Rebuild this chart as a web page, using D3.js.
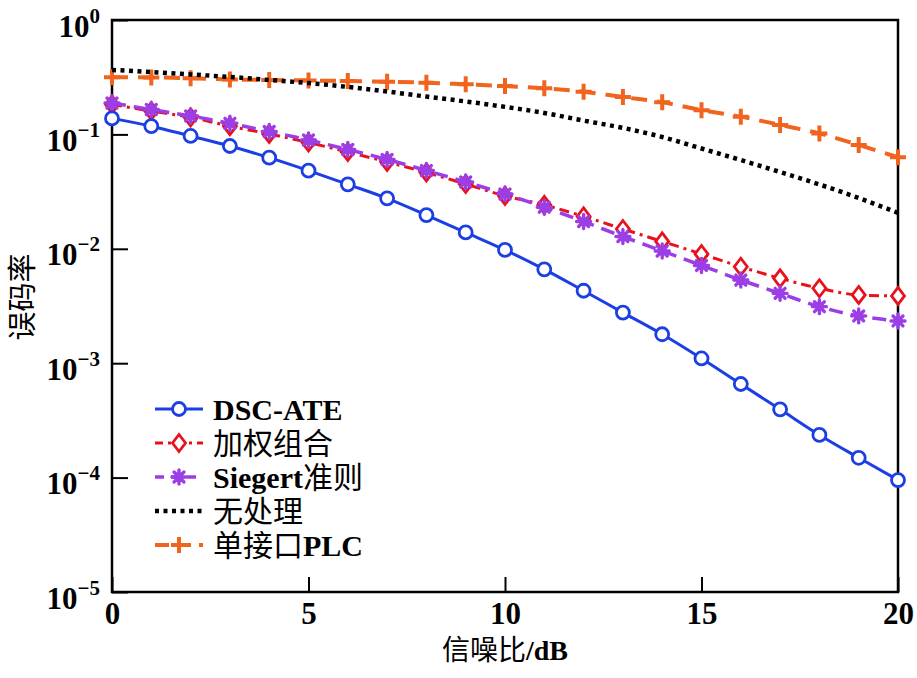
<!DOCTYPE html>
<html><head><meta charset="utf-8">
<script src="https://cdn.jsdelivr.net/npm/d3@7"></script>
<style>body{margin:0;background:#fff}svg{display:block}</style>
</head><body><svg id="c" width="917" height="678"></svg>
<script>
const snr = d3.range(0, 21);
const dscAte   = [0.138,0.118,0.0969,0.0792,0.0626,0.0482,0.0366,0.0276,0.0197,0.0139,0.00977,0.00662,0.00430,0.00277,0.00179,0.00110,0.000658,0.000395,0.000236,0.000149,0.0000952];
const weighted = [0.183,0.160,0.141,0.118,0.101,0.0849,0.0702,0.0574,0.0465,0.0368,0.0290,0.0242,0.0192,0.0149,0.0116,0.00901,0.00697,0.00552,0.00452,0.00395,0.00387];
const siegert  = [0.188,0.165,0.145,0.125,0.106,0.0893,0.0738,0.0604,0.0483,0.0384,0.0301,0.0231,0.0173,0.0128,0.00957,0.00715,0.00533,0.00408,0.00312,0.00259,0.00234];
const noProc   = [0.366,0.351,0.334,0.318,0.299,0.281,0.260,0.237,0.214,0.194,0.174,0.154,0.132,0.114,0.0949,0.0753,0.0597,0.0469,0.0365,0.0278,0.0206];
const singlePLC= [0.316,0.315,0.309,0.302,0.299,0.296,0.293,0.289,0.283,0.274,0.265,0.253,0.236,0.212,0.191,0.163,0.143,0.121,0.102,0.0808,0.0631];
const xTicks = [0,5,10,15,20];
const yTickExp = [0,-1,-2,-3,-4,-5];
const seriesNames = ["DSC-ATE","加权组合","Siegert准则","无处理","单接口PLC"];
const xLabel = "信噪比/dB", yLabel = "误码率";

const series = [
  {name:seriesNames[0], vals:dscAte,   color:"#1b3fe4", dash:null,        width:3,   marker:"circle"},
  {name:seriesNames[1], vals:weighted, color:"#e8121c", dash:"10,5,3,5",  width:3,   marker:"diamond"},
  {name:seriesNames[2], vals:siegert,  color:"#9b3ee6", dash:"14,8",      width:3.5, marker:"star"},
  {name:seriesNames[3], vals:noProc,   color:"#000000", dash:"4,4.5",     width:4.5, marker:null},
  {name:seriesNames[4], vals:singlePLC,color:"#f0641e", dash:"16,10",     width:4,   marker:"plus"}
];

const L=112, T=20, R=898, B=592;
const svg = d3.select("#c");
const x = d3.scaleLinear().domain([0,20]).range([L,R]);
const y = d3.scaleLog().domain([1e-5,1]).range([B,T]);
const serif = "'Liberation Serif','Times New Roman',serif";
const cjkFont = "'Liberation Serif','Noto Sans CJK SC',sans-serif";

function mixedText(sel, str){
  const runs = str.match(/[\u3400-\u9fff]+|[^\u3400-\u9fff]+/g) || [];
  runs.forEach(r=>{
    const isCjk = /[\u3400-\u9fff]/.test(r);
    sel.append("tspan").attr("font-family", isCjk?cjkFont:serif)
      .attr("font-weight", isCjk?"normal":"bold").text(r);
  });
}

// axes (inward ticks)
const gx = svg.append("g").attr("transform",`translate(0,${B})`)
  .call(d3.axisBottom(x).tickValues(xTicks).tickSize(-15).tickPadding(0).tickFormat(d3.format("d")));
const gy = svg.append("g").attr("transform",`translate(${L},0)`)
  .call(d3.axisLeft(y).tickValues(yTickExp.map(e=>Math.pow(10,e))).tickSize(-16).tickFormat(""));
[gx,gy].forEach(g=>{g.select(".domain").remove(); g.selectAll(".tick line").attr("stroke","#000").attr("stroke-width",2);});
gx.selectAll(".tick text").attr("font-family",serif).attr("font-weight","bold").attr("font-size",31)
  .attr("fill","#000").attr("y",32).attr("dy",0);
// y tick labels with superscript
gy.selectAll(".tick").each(function(d){
  const e = Math.round(Math.log10(d));
  const t = d3.select(this).append("text").attr("x",-12).attr("y",16).attr("text-anchor","end")
    .attr("font-family",serif).attr("font-weight","bold").attr("font-size",31).attr("fill","#000");
  t.append("tspan").text("10");
  t.append("tspan").attr("dy",-14).attr("font-size",21).text(e<0?"\u2212"+(-e):String(e));
});
// frame
svg.append("rect").attr("x",L).attr("y",T).attr("width",R-L).attr("height",B-T)
  .attr("fill","none").attr("stroke","#000").attr("stroke-width",2.5);

svg.append("clipPath").attr("id","cp").append("rect")
  .attr("x",L-10).attr("y",T).attr("width",R-L+20).attr("height",B-T);

const line = d3.line().x((d,i)=>x(snr[i])).y(d=>y(d)).curve(d3.curveMonotoneX);

function drawMarker(g, type, cx, cy, color){
  if(type==="circle"){
    g.append("circle").attr("cx",cx).attr("cy",cy).attr("r",6.5).attr("fill","#fff").attr("stroke",color).attr("stroke-width",2.8);
  } else if(type==="diamond"){
    g.append("path").attr("d",`M${cx},${cy-8.5}L${cx+6.5},${cy}L${cx},${cy+8.5}L${cx-6.5},${cy}Z`)
      .attr("fill","#fff").attr("stroke",color).attr("stroke-width",2.8);
  } else if(type==="star"){
    const r=7; let d="";
    for(let k=0;k<4;k++){const a=k*Math.PI/4; d+=`M${cx-r*Math.cos(a)},${cy-r*Math.sin(a)}L${cx+r*Math.cos(a)},${cy+r*Math.sin(a)}`;}
    g.append("circle").attr("cx",cx).attr("cy",cy).attr("r",4.5).attr("fill",color);
    g.append("path").attr("d",d).attr("stroke",color).attr("stroke-width",3.4).attr("stroke-linecap","round");
  } else if(type==="plus"){
    g.append("path").attr("d",`M${cx-8},${cy}L${cx+8},${cy}M${cx},${cy-8}L${cx},${cy+8}`)
      .attr("stroke",color).attr("stroke-width",4);
  }
}

const plot = svg.append("g").attr("clip-path","url(#cp)");
[4,3,1,2,0].forEach(si=>{
  const s = series[si];
  const g = plot.append("g");
  g.append("path").attr("d",line(s.vals)).attr("fill","none").attr("stroke",s.color)
    .attr("stroke-width",s.width).attr("stroke-dasharray",s.dash);
  if(s.marker) s.vals.forEach((v,i)=>drawMarker(g,s.marker,x(snr[i]),y(v),s.color));
});

// legend
const lg = svg.append("g");
const rowsY = [409,443,477,511,545];
const legDash = [null,"8,5,3,5","9,7","4,4.5","14,8"];
series.forEach((s,i)=>{
  const yy = rowsY[i];
  lg.append("line").attr("x1",155).attr("x2",203).attr("y1",yy).attr("y2",yy)
    .attr("stroke",s.color).attr("stroke-width",s.width).attr("stroke-dasharray",legDash[i]);
  if(s.marker) drawMarker(lg,s.marker,179,yy,s.color);
  const t = lg.append("text").attr("x",213).attr("y",yy+11).attr("font-size",30).attr("fill","#000");
  mixedText(t, s.name);
});

// axis titles
const xt = svg.append("text").attr("x",(L+R)/2).attr("y",660).attr("text-anchor","middle")
  .attr("font-size",28).attr("fill","#000");
mixedText(xt, xLabel);
svg.append("text").attr("transform",`translate(33,297) rotate(-90)`).attr("text-anchor","middle")
  .attr("font-family",cjkFont).attr("font-size",29).attr("fill","#000").text(yLabel);
</script></body></html>
